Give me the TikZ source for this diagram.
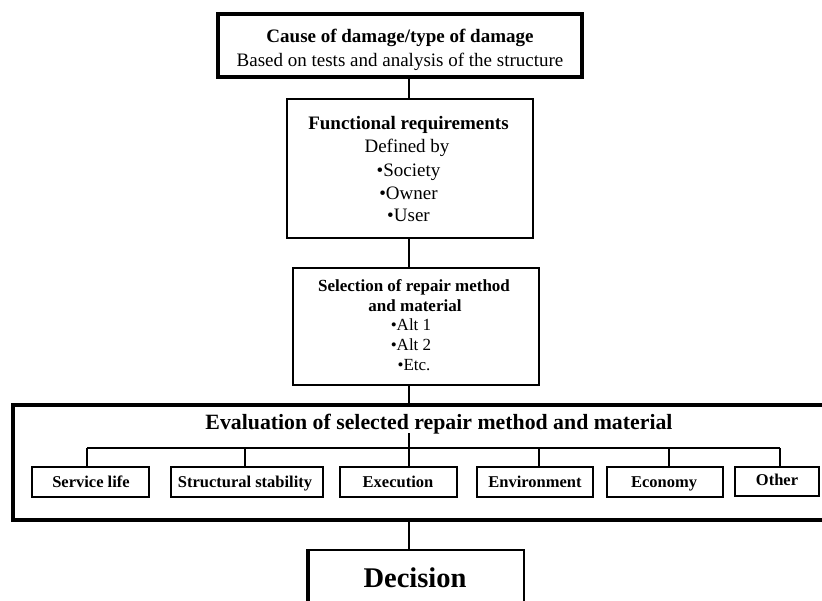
\documentclass[tikz,border=0pt]{standalone}
\usepackage{fontspec}
\setmainfont{Liberation Serif}
\begin{document}
\begin{tikzpicture}[x=1pt,y=-1pt,
  box/.style={draw=black,line width=2pt,anchor=north west,inner sep=0pt,outer sep=0pt},
  conn/.style={draw=black,line width=1.6pt},
  rtxt/.style={anchor=base,inner sep=0pt,font=\fontsize{19}{23}\selectfont},
  btxt/.style={anchor=base,inner sep=0pt,font=\fontsize{19}{23}\selectfont\bfseries},
  stxt/.style={anchor=base,inner sep=0pt,font=\fontsize{17}{20}\selectfont\bfseries},
  srtxt/.style={anchor=base,inner sep=0pt,font=\fontsize{17}{20}\selectfont},
  subtxt/.style={anchor=base,inner sep=0pt,font=\fontsize{16.5}{20}\selectfont\bfseries}
]
\useasboundingbox (0,0) rectangle (822,601);
\fill[white] (0,0) rectangle (822,601);

% spine of the connectors
\coordinate (spine) at (409,0);

% top box
\node[box,line width=3.8pt,minimum width=364pt,minimum height=63pt] (top) at (218,14) {};
\node[btxt] (t1) at (400,43) {Cause of damage/type of damage};
\node[rtxt] (t2) at (400,66.5) {Based on tests and analysis of the structure};

% functional requirements
\node[box,minimum width=246pt,minimum height=139pt] (func) at (287,99) {};
\node[btxt] (f1) at (408.5,130) {Functional requirements};
\node[rtxt] (f2) at (407,153) {Defined by};
\node[rtxt] (f3) at (408.5,176.5) {•Society};
\node[rtxt] (f4) at (408.5,199.5) {•Owner};
\node[rtxt] (f5) at (408.5,222) {•User};

% selection
\node[box,minimum width=246pt,minimum height=117pt] (sel) at (293,268) {};
\node[stxt] (s1) at (414,292) {Selection of repair method};
\node[stxt] (s2) at (415,311.5) {and material};
\node[srtxt] (s3) at (411,331) {•Alt 1};
\node[srtxt] (s4) at (411,350.5) {•Alt 2};
\node[srtxt] (s5) at (414,370.5) {•Etc.};

% evaluation (right edge lies past the page edge)
\node[box,line width=4pt,minimum width=815pt,minimum height=114pt] (eval) at (13,405.5) {};
\node[anchor=base,inner sep=0pt,font=\fontsize{21.8}{26}\selectfont\bfseries] (evt) at (439,430) {Evaluation of selected repair method and material};

% sub boxes
\node[box,minimum width=117pt,minimum height=30pt] (svc) at (32,467) {};
\node[box,minimum width=152pt,minimum height=30pt] (str) at (171,467) {};
\node[box,minimum width=117pt,minimum height=30pt] (exe) at (340,467) {};
\node[box,minimum width=116pt,minimum height=30pt] (env) at (477,467) {};
\node[box,minimum width=116pt,minimum height=30pt] (eco) at (607,467) {};
\node[box,minimum width=84pt,minimum height=29pt] (oth) at (735,467) {};
\node[subtxt] (svct) at (91,487) {Service life};
\node[subtxt] (strt) at (245,487) {Structural stability};
\node[subtxt] (exet) at (398,487) {Execution};
\node[subtxt] (envt) at (535,487) {Environment};
\node[subtxt] (ecot) at (664,487) {Economy};
\node[subtxt] (otht) at (777,485) {Other};

% decision
\node[box,minimum width=216pt,minimum height=80pt] (dec) at (308,550) {};
\draw[line width=4.5pt] ([yshift=1pt]dec.north west) -- (dec.south west);
\node[anchor=base,inner sep=0pt,font=\fontsize{28.5}{32}\selectfont\bfseries] (dect) at (415,587) {Decision};

% connectors
\draw[conn] (top.south -| spine) -- (func.north -| spine);
\draw[conn] (func.south -| spine) -- (sel.north -| spine);
\draw[conn] (sel.south -| spine) -- (eval.north -| spine);
\coordinate (tb) at (409,433);
\coordinate (b1) at (87,448);
\coordinate (b2) at (245,448);
\coordinate (b3) at (409,448);
\coordinate (b4) at (539,448);
\coordinate (b5) at (669,448);
\coordinate (b6) at (780,448);
\draw[conn] (tb) -- (b3);
\draw[conn] (b1) -- (b6);
\draw[conn] (b1) -- (svc.north -| b1);
\draw[conn] (b2) -- (str.north -| b2);
\draw[conn] (b3) -- (exe.north -| b3);
\draw[conn] (b4) -- (env.north -| b4);
\draw[conn] (b5) -- (eco.north -| b5);
\draw[conn] (b6) -- (oth.north -| b6);
\draw[conn] (eval.south -| spine) -- (dec.north -| spine);
\end{tikzpicture}
\end{document}
